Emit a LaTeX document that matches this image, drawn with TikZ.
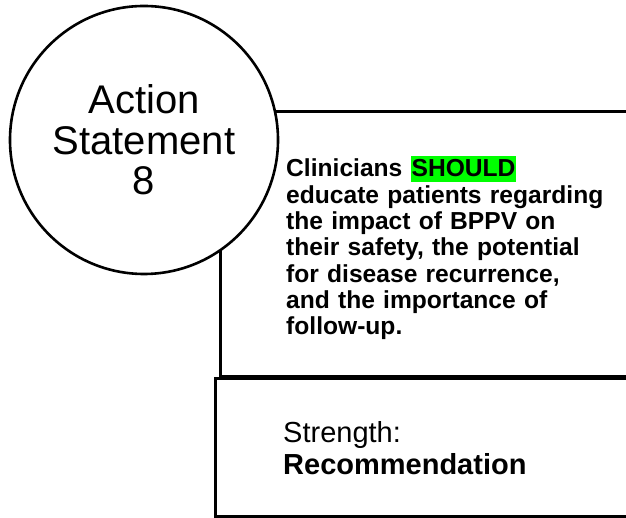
\documentclass[tikz,border=0pt]{standalone}
\usepackage{fontspec}
\setmainfont{Liberation Sans}
\usetikzlibrary{positioning}
\definecolor{hlgreen}{RGB}{0, 255, 0}
\newcommand{\hlword}[1]{{\setlength{\fboxsep}{1pt}\colorbox{hlgreen}{\rule[-4pt]{0pt}{24pt}#1}}}

\begin{document}
\begin{tikzpicture}[
    x=1pt, y=1pt,
    panel/.style={rectangle, draw, line width=2.6pt, fill=white, anchor=south west, inner sep=0pt},
    badge/.style={circle, draw, line width=2.6pt, fill=white, minimum size=268pt, inner sep=0pt,
                  align=center, font=\fontsize{40}{40.5}\selectfont},
    body/.style={anchor=base west, inner sep=0pt, align=left, text width=330pt,
                 font=\fontsize{24.6}{26.3}\selectfont\bfseries},
  ]
    \useasboundingbox (0,0) rectangle (626,518);
    \clip (0,0) rectangle (626,518);

    % Boxes
    \node[panel, minimum width=430pt, minimum height=138pt] (grade) at (214,0.3) {};
    \node[panel, minimum width=430pt, minimum height=265pt] (stmt) at (219,140) {};

    % Circle
    \node[badge] (title) at (144,378) {Action\\Statement\\8};

    % Texts
    \node[body] (stmttext) at (286,341) {Clinicians \hlword{SHOULD}\\
      educate patients regarding\\
      the impact of BPPV on\\
      their safety, the potential\\
      for disease recurrence,\\
      and the importance of\\
      follow-up.};
    \node[body, font=\fontsize{29}{32}\selectfont] (gradetext) at (283,75)
      {Strength:\\\textbf{Recommendation}};
  \end{tikzpicture}
\end{document}
